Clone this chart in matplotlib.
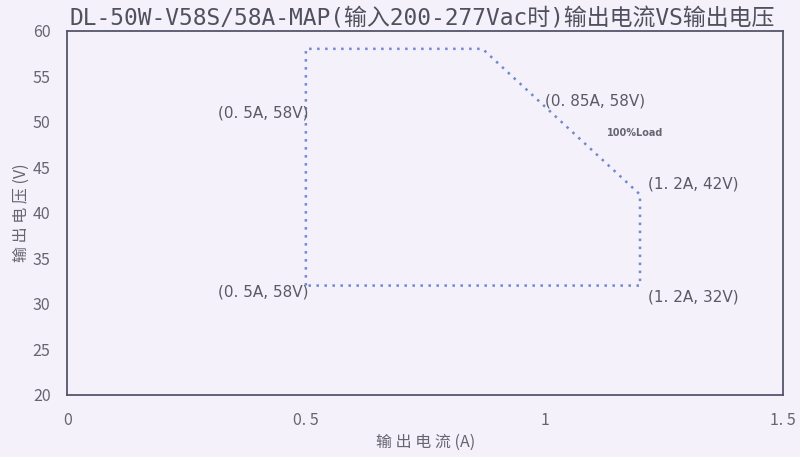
import matplotlib.pyplot as plt

plt.rcParams['font.family'] = ['Noto Sans CJK SC', 'DejaVu Sans']

# boundary of the operating area (A, V)
current = [0.5, 0.5, 0.87, 1.2, 1.2, 0.5]
voltage = [32, 58, 58, 42, 32, 32]

# point labels: text, x, y, alignment
labels = ["(0. 5A, 58V)", "(0. 85A, 58V)", "(1. 2A, 42V)", "(0. 5A, 58V)", "(1. 2A, 32V)"]
label_x = [0.505, 1.0, 1.217, 0.505, 1.217]
label_y = [50.9, 52.3, 43.2, 31.3, 30.8]
label_ha = ["right", "left", "left", "right", "left"]

bg = "#f4f1fa"
fig = plt.figure(figsize=(8, 4.57), dpi=100, facecolor=bg)
ax = fig.add_axes([0.084, 0.136, 0.895, 0.797], facecolor=bg)

ax.plot(current, voltage, linestyle=(0, (1, 2.2)), color="#7088cc", linewidth=1.8)

for text, x, y, ha in zip(labels, label_x, label_y, label_ha):
    ax.text(x, y, text, ha=ha, va="center", fontsize=11, color="#5a5a66",
            family="DejaVu Sans")
ax.text(1.13, 48.8, "100%Load", ha="left", va="center", fontsize=7,
        fontweight="bold", color="#666670", family="DejaVu Sans")

ax.set_xlim(0, 1.5)
ax.set_ylim(20, 60)
ax.set_xticks([0, 0.5, 1, 1.5])
ax.set_xticklabels(["0", "0. 5", "1", "1. 5"])
ax.set_yticks(range(20, 61, 5))
ax.tick_params(length=0, labelsize=11.5, labelcolor="#666670")
ax.tick_params(axis="x", pad=12)
ax.tick_params(axis="y", pad=12)
for sp in ax.spines.values():
    sp.set_color("#55556a")
    sp.set_linewidth(1.3)

ax.set_xlabel("输 出 电 流 (A)", fontsize=11.5, color="#666670", labelpad=4)
ax.set_ylabel("输 出 电 压 (V)", fontsize=11.5, color="#666670", labelpad=2)
fig.text(0.528, 0.958, "DL-50W-V58S/58A-MAP(输入200-277Vac时)输出电流VS输出电压",
         ha="center", va="center", fontsize=16.5, color="#50505f",
         family=["DejaVu Sans Mono", "Noto Sans CJK SC"])

fig.savefig("out.png", dpi=100, facecolor=bg)
